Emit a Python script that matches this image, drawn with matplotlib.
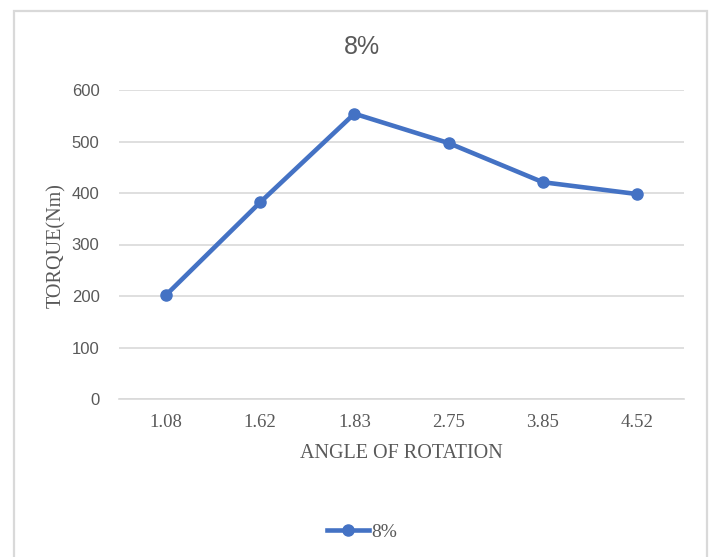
import numpy as np
import matplotlib.pyplot as plt
from matplotlib.patches import Rectangle

# ==== data ====
angles = ["1.08", "1.62", "1.83", "2.75", "3.85", "4.52"]
torque = [202, 382, 554, 497, 421, 398]
series_name = "8%"

W, H = 711, 557
fig = plt.figure(figsize=(W / 100, H / 100), dpi=100)

# chart border (Excel style)
fig.patches.append(Rectangle((14 / W, -0.05), (707 - 14) / W, 1.05 - 11 / H,
                             transform=fig.transFigure, fill=False,
                             edgecolor="#d9d9d9", linewidth=1.6))

ax = fig.add_axes([119 / W, 1 - 399 / H, (684 - 119) / W, (399 - 90) / H])

x = np.arange(len(angles))
ax.plot(x, torque, color="#4472C4", linewidth=3.3, marker="o",
        markersize=8, label=series_name, zorder=3)

ax.set_xlim(-0.5, len(angles) - 0.5)
ax.set_ylim(0, 600)
ax.set_yticks(range(0, 601, 100))
ax.set_xticks(x)
ax.set_xticklabels(angles, fontfamily="Liberation Serif", fontsize=13.5, color="#595959")
for lab in ax.get_yticklabels():
    lab.set_fontfamily("Liberation Sans")
    lab.set_fontsize(12)
    lab.set_color("#595959")

ax.grid(axis="y", color="#d9d9d9", linewidth=1.2)
ax.set_axisbelow(True)
ax.tick_params(length=0)
ax.tick_params(axis="y", pad=14)
ax.tick_params(axis="x", pad=11)
for s in ["top", "right", "left"]:
    ax.spines[s].set_visible(False)
ax.spines["bottom"].set_color("#d9d9d9")
ax.spines["bottom"].set_linewidth(1.2)

fig.text(362 / W, 1 - 47 / H, series_name, ha="center", va="center",
         fontsize=18, color="#595959", fontfamily="Liberation Sans")
fig.text(57 / W, 1 - 246 / H, "TORQUE(Nm)", rotation=90, ha="center", va="center",
         fontsize=14.5, color="#595959", fontfamily="Liberation Serif")
fig.text(401 / W, 1 - 453 / H, "ANGLE OF ROTATION", ha="center", va="center",
         fontsize=14.5, color="#595959", fontfamily="Liberation Serif")

fig.legend(loc="center", bbox_to_anchor=(362 / W, 1 - 532 / H), frameon=False,
           prop={"family": "Liberation Serif", "size": 14},
           handlelength=2.2, handletextpad=0.1, labelcolor="#595959")

fig.savefig("out.png", dpi=100)
